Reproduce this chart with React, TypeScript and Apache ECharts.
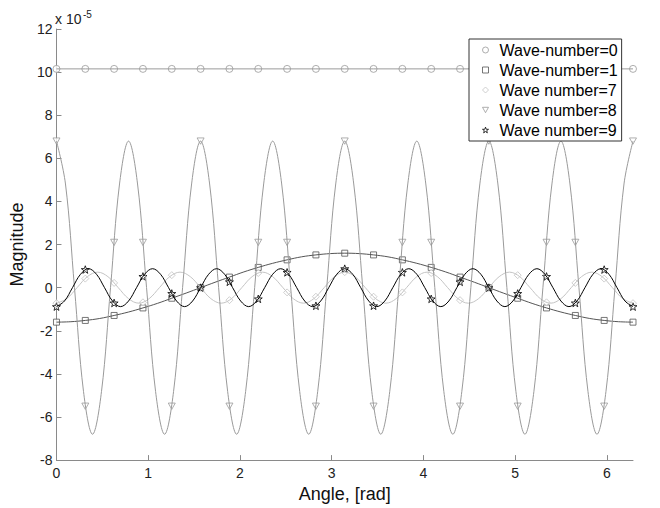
import React, { useEffect, useRef } from "react";
import * as echarts from "echarts";

// ---------- data (values in units of 1e-5) ----------
const seriesNames = [
  "Wave-number=0",
  "Wave-number=1",
  "Wave number=7",
  "Wave number=8",
  "Wave number=9",
];
const xTickValues = [0, 1, 2, 3, 4, 5, 6];
const yTickMin = -8;
const yTickMax = 12;
const xMax = 6.2832;

// marker samples, every pi/10
const markerStep = Math.PI / 10;
const wave0Markers = [
  10.15, 10.15, 10.15, 10.15, 10.15, 10.15, 10.15, 10.15, 10.15, 10.15, 10.15,
  10.15, 10.15, 10.15, 10.15, 10.15, 10.15, 10.15, 10.15, 10.15, 10.15,
];
const wave1Markers = [
  -1.6, -1.52, -1.29, -0.94, -0.49, 0, 0.49, 0.94, 1.29, 1.52, 1.6, 1.52, 1.29,
  0.94, 0.49, 0, -0.49, -0.94, -1.29, -1.52, -1.6,
];
const wave7Markers = [
  -0.72, 0.42, 0.22, -0.68, 0.58, 0, -0.58, 0.68, -0.22, -0.42, 0.72, -0.42,
  -0.22, 0.68, -0.58, 0, 0.58, -0.68, 0.22, 0.42, -0.72,
];
const wave8Markers = [
  6.8, -5.5, 2.1, 2.1, -5.5, 6.8, -5.5, 2.1, 2.1, -5.5, 6.8, -5.5, 2.1, 2.1,
  -5.5, 6.8, -5.5, 2.1, 2.1, -5.5, 6.8,
];
const wave9Markers = [
  -0.88, 0.84, -0.71, 0.52, -0.27, 0, 0.27, -0.52, 0.71, -0.84, 0.88, -0.84,
  0.71, -0.52, 0.27, 0, -0.27, 0.52, -0.71, 0.84, -0.88,
];

// curve samples
const wave0Step = Math.PI / 10;
const wave0Line = wave0Markers;
const wave1Step = Math.PI / 20;
const wave1Line = [
  -1.6, -1.58, -1.52, -1.43, -1.29, -1.13, -0.94, -0.73, -0.49, -0.25, 0, 0.25,
  0.49, 0.73, 0.94, 1.13, 1.29, 1.43, 1.52, 1.58, 1.6, 1.58, 1.52, 1.43, 1.29,
  1.13, 0.94, 0.73, 0.49, 0.25, 0, -0.25, -0.49, -0.73, -0.94, -1.13, -1.29,
  -1.43, -1.52, -1.58, -1.6,
];
const wave7Step = Math.PI / 28;
const wave7Line = [
  -0.72, -0.51, 0, 0.51, 0.72, 0.51, 0, -0.51,
  -0.72, -0.51, 0, 0.51, 0.72, 0.51, 0, -0.51,
  -0.72, -0.51, 0, 0.51, 0.72, 0.51, 0, -0.51,
  -0.72, -0.51, 0, 0.51, 0.72, 0.51, 0, -0.51,
  -0.72, -0.51, 0, 0.51, 0.72, 0.51, 0, -0.51,
  -0.72, -0.51, 0, 0.51, 0.72, 0.51, 0, -0.51,
  -0.72, -0.51, 0, 0.51, 0.72, 0.51, 0, -0.51,
  -0.72,
];
const wave8Step = Math.PI / 32;
const wave8Line = [
  6.8, 4.81, 0, -4.81, -6.8, -4.81, 0, 4.81,
  6.8, 4.81, 0, -4.81, -6.8, -4.81, 0, 4.81,
  6.8, 4.81, 0, -4.81, -6.8, -4.81, 0, 4.81,
  6.8, 4.81, 0, -4.81, -6.8, -4.81, 0, 4.81,
  6.8, 4.81, 0, -4.81, -6.8, -4.81, 0, 4.81,
  6.8, 4.81, 0, -4.81, -6.8, -4.81, 0, 4.81,
  6.8, 4.81, 0, -4.81, -6.8, -4.81, 0, 4.81,
  6.8, 4.81, 0, -4.81, -6.8, -4.81, 0, 4.81,
  6.8,
];
const wave9Step = Math.PI / 36;
const wave9Line = [
  -0.88, -0.62, 0, 0.62, 0.88, 0.62, 0, -0.62,
  -0.88, -0.62, 0, 0.62, 0.88, 0.62, 0, -0.62,
  -0.88, -0.62, 0, 0.62, 0.88, 0.62, 0, -0.62,
  -0.88, -0.62, 0, 0.62, 0.88, 0.62, 0, -0.62,
  -0.88, -0.62, 0, 0.62, 0.88, 0.62, 0, -0.62,
  -0.88, -0.62, 0, 0.62, 0.88, 0.62, 0, -0.62,
  -0.88, -0.62, 0, 0.62, 0.88, 0.62, 0, -0.62,
  -0.88, -0.62, 0, 0.62, 0.88, 0.62, 0, -0.62,
  -0.88, -0.62, 0, 0.62, 0.88, 0.62, 0, -0.62,
  -0.88,
];

// ---------- styling ----------
const FONT = "'Liberation Sans', Arial, Helvetica, sans-serif";
const colors = ["#9a9a9a", "#555555", "#c4c4c4", "#9a9a9a", "#000000"];
const symbols = [
  "path://M5,0A5,5 0 1 1 5,10A5,5 0 1 1 5,0Z",
  "path://M0,0H10V10H0Z",
  "path://M5,0L10,5L5,10L0,5Z",
  "path://M0,0L10,0L5,9Z",
  "path://M5,0L6.18,3.38L9.76,3.45L6.9,5.62L7.94,9.05L5,7L2.06,9.05L3.1,5.62L0.24,3.45L3.82,3.38Z",
];
const symbolSizes = [7, 6, 7, 7, 8];

const toPairs = (vals: number[], step: number) =>
  vals.map((v, i) => [Math.min(i * step, xMax), v]);

export default function App() {
  const ref = useRef<HTMLDivElement>(null);
  useEffect(() => {
    if (!ref.current) return;
    const chart = echarts.init(ref.current, undefined, { renderer: "svg" });
    const lines = [
      toPairs(wave0Line, wave0Step),
      toPairs(wave1Line, wave1Step),
      toPairs(wave7Line, wave7Step),
      toPairs(wave8Line, wave8Step),
      toPairs(wave9Line, wave9Step),
    ];
    const markers = [
      wave0Markers,
      wave1Markers,
      wave7Markers,
      wave8Markers,
      wave9Markers,
    ].map((m) => toPairs(m, markerStep));

    const series: any[] = [];
    for (let s = 0; s < 5; s++) {
      series.push({
        type: "line",
        name: "curve" + s,
        data: lines[s],
        showSymbol: false,
        smooth: s === 0 ? false : 0.37,
        lineStyle: { color: colors[s], width: 1 },
        itemStyle: { color: colors[s] },
        silent: true,
      });
      series.push({
        type: "scatter",
        name: seriesNames[s],
        data: markers[s],
        symbol: symbols[s],
        symbolSize: symbolSizes[s],
        symbolKeepAspect: true,
        itemStyle: { color: "#ffffff", borderColor: colors[s], borderWidth: 1 },
        silent: true,
      });
    }

    chart.setOption({
      animation: false,
      grid: { left: 53, right: 27, top: 29, bottom: 39, containLabel: false },
      xAxis: {
        type: "value",
        min: 0,
        max: xMax,
        interval: 1,
        name: "Angle, [rad]",
        nameLocation: "middle",
        nameGap: 20,
        nameTextStyle: { fontFamily: FONT, fontSize: 18, color: "#111" },
        axisLine: { show: true, onZero: false, lineStyle: { color: "#8a8a8a", width: 1 } },
        axisTick: {
          show: true,
          inside: true,
          length: 5,
          customValues: xTickValues,
          lineStyle: { color: "#8a8a8a" },
        },
        axisLabel: {
          customValues: xTickValues,
          fontFamily: FONT,
          fontSize: 14,
          color: "#222",
          margin: 6,
        },
        splitLine: { show: false },
      },
      yAxis: {
        type: "value",
        min: yTickMin,
        max: yTickMax,
        interval: 2,
        name: "Magnitude",
        nameLocation: "middle",
        nameGap: 22,
        nameTextStyle: { fontFamily: FONT, fontSize: 18, color: "#111" },
        axisLine: { show: true, onZero: false, lineStyle: { color: "#8a8a8a", width: 1 } },
        axisTick: { show: true, inside: true, length: 5, lineStyle: { color: "#8a8a8a" } },
        axisLabel: { fontFamily: FONT, fontSize: 14, color: "#222", margin: 4 },
        splitLine: { show: false },
      },
      legend: {
        orient: "vertical",
        left: 469,
        top: 39,
        padding: [3, 4, 3, 13],
        itemWidth: 6,
        itemHeight: 6,
        itemGap: 4,
        borderColor: "#333",
        borderWidth: 1,
        backgroundColor: "#ffffff",
        selectedMode: false,
        textStyle: {
          fontFamily: FONT,
          fontSize: 16,
          color: "#000",
          padding: [0, 0, 0, 6],
        },
        data: seriesNames.map((name, s) => ({
          name,
          icon: symbols[s],
          itemStyle: {
            color: "#ffffff",
            borderColor: colors[s],
            borderWidth: 1,
          },
        })),
      },
      graphic: [
        {
          type: "text",
          left: 55,
          top: 12,
          style: { text: "x 10", font: `14px ${FONT}`, fill: "#222" },
        },
        {
          type: "text",
          left: 83,
          top: 9,
          style: { text: "-5", font: `10px ${FONT}`, fill: "#222" },
        },
      ],
      series,
    });
    return () => chart.dispose();
  }, []);
  return (
    <div
      ref={ref}
      style={{ position: "fixed", left: 0, top: 0, width: 660, height: 508, background: "#fff" }}
    />
  );
}
